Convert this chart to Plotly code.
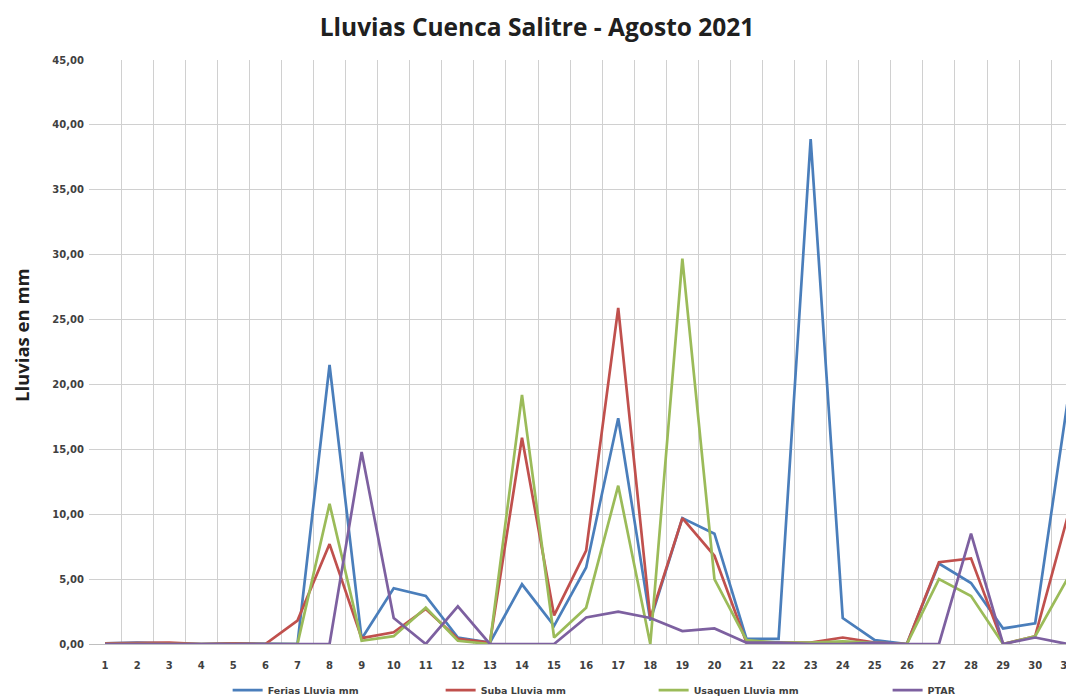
import plotly.graph_objects as go

# Días de agosto 2021
dias = list(range(1, 32))

# Lluvia diaria (mm) por estación
ferias = [0.05, 0.1, 0.05, 0.0, 0.05, 0.0, 0.0, 21.5, 0.4, 4.3, 3.7, 0.5, 0.1, 4.6, 1.4,
          5.9, 17.4, 1.8, 9.7, 8.5, 0.4, 0.4, 38.9, 2.0, 0.3, 0.0, 6.2, 4.7, 1.2, 1.6, 18.5]
suba = [0.05, 0.05, 0.1, 0.0, 0.05, 0.0, 1.8, 7.7, 0.45, 0.9, 2.7, 0.4, 0.1, 15.9, 2.2,
        7.2, 25.9, 2.0, 9.7, 6.8, 0.1, 0.1, 0.1, 0.5, 0.1, 0.0, 6.3, 6.6, 0.0, 0.6, 9.7]
usaquen = [0.0, 0.0, 0.0, 0.0, 0.0, 0.0, 0.0, 10.8, 0.25, 0.6, 2.8, 0.25, 0.0, 19.2, 0.5,
           2.8, 12.2, 0.0, 29.7, 5.0, 0.3, 0.1, 0.1, 0.2, 0.1, 0.0, 5.0, 3.7, 0.0, 0.6, 5.0]
ptar = [0.0, 0.0, 0.0, 0.0, 0.0, 0.0, 0.0, 0.0, 14.8, 2.0, 0.0, 2.9, 0.0, 0.0, 0.0,
        2.05, 2.5, 2.0, 1.0, 1.2, 0.1, 0.1, 0.0, 0.0, 0.1, 0.0, 0.0, 8.5, 0.0, 0.5, 0.0]

series = [
    ("Ferias Lluvia mm", ferias, "#4a7ebb", "legend"),
    ("Suba Lluvia mm", suba, "#c0504d", "legend"),
    ("Usaquen Lluvia mm", usaquen, "#9bbb59", "legend"),
    ("PTAR", ptar, "#7d60a0", "legend2"),
]

y_ticks = [0, 5, 10, 15, 20, 25, 30, 35, 40, 45]

fig = go.Figure()
for name, vals, color, leg in series:
    fig.add_trace(go.Scatter(x=dias, y=vals, name=name, mode="lines", legend=leg,
                             line=dict(color=color, width=2.7)))

tick_font = dict(family="DejaVu Sans", size=10, color="#404040", weight="bold")
legend_font = dict(family="DejaVu Sans", size=9.5, color="#404040", weight="bold")

fig.update_layout(
    width=1074, height=696,
    margin=dict(l=81, r=0, t=52, b=60, autoexpand=False),
    paper_bgcolor="white", plot_bgcolor="white",
    separators=",.",
    title=dict(text="Lluvias Cuenca Salitre - Agosto 2021", x=0.4926, xanchor="center",
               xref="container", y=0.972, yref="container", yanchor="middle",
               font=dict(family="Open Sans", size=24.5, color="#202020", weight="bold")),
    showlegend=True,
    legend=dict(orientation="h", xref="container", x=0.2045, xanchor="left",
                yref="container", y=0.02, yanchor="middle",
                entrywidth=168, entrywidthmode="pixels",
                font=legend_font, itemwidth=30, bgcolor="rgba(0,0,0,0)"),
    legend2=dict(orientation="h", xref="container", x=0.819, xanchor="left",
                 yref="container", y=0.02, yanchor="middle",
                 font=legend_font, itemwidth=30, bgcolor="rgba(0,0,0,0)"),
    annotations=[dict(text="Lluvias en mm", textangle=-90, xref="paper", yref="paper",
                      x=-0.0685, y=0.529, xanchor="center", yanchor="middle", showarrow=False,
                      font=dict(family="Open Sans", size=18.5, color="#202020", weight="bold"))],
)

fig.update_xaxes(
    range=[0.5, 31.46], tickvals=dias, ticktext=[str(d) for d in dias],
    showgrid=False, ticks="", tickfont=tick_font, ticklabelstandoff=12,
    showline=True, linecolor="#bfbfbf", linewidth=1, automargin=False,
    minor=dict(tickvals=[d - 0.5 for d in dias] + [31.5], showgrid=True,
               gridcolor="#d0d0d0", gridwidth=1),
    zeroline=False,
)
fig.update_yaxes(
    range=[0, 45], tickvals=y_ticks, tickformat=".2f", automargin=False,
    showgrid=True, gridcolor="#d0d0d0", gridwidth=1,
    tickfont=tick_font, ticks="", zeroline=False, ticklabelstandoff=4,
)

fig.write_html("out.html")
